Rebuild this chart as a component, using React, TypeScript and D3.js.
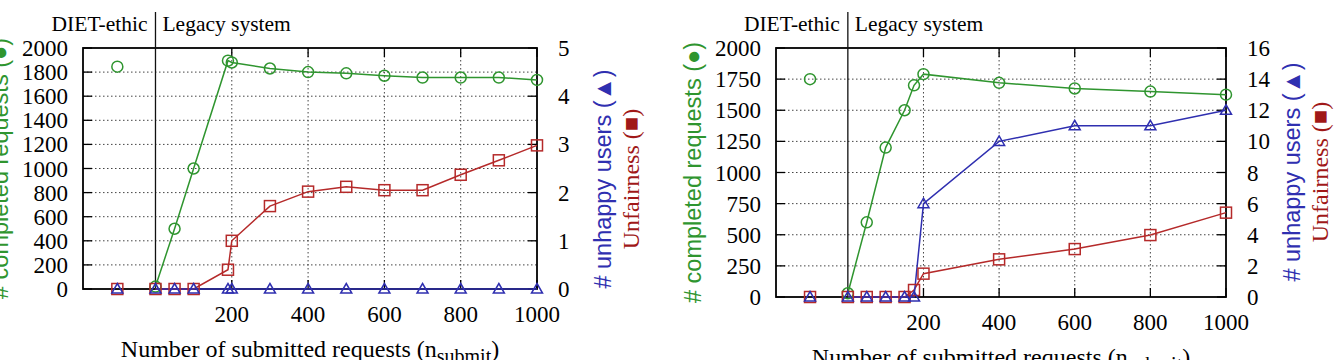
import React from "react"
import * as d3 from "d3"

// shared x layout: DIET-ethic run sits left of 0, legacy runs from 0 to 1000
const xDomain = [-190, 1000]
const xTicks = [200, 400, 600, 800, 1000]
const dietX = [-100]

// first experiment
const aLegacyX = [0, 50, 100, 190, 200, 300, 400, 500, 600, 700, 800, 900, 1000]
const aCompleted = [20, 500, 1000, 1895, 1880, 1830, 1800, 1790, 1770, 1755, 1755, 1755, 1735]
const aUnhappy = [0, 0, 0, 0, 0, 0, 0, 0, 0, 0, 0, 0, 0]
const aUnfairness = [0, 0, 0, 0.4, 1.0, 1.72, 2.02, 2.12, 2.05, 2.05, 2.37, 2.67, 2.98]
const aDietCompleted = [1845]
const aDietUnhappy = [0]
const aDietUnfairness = [0]
const aLeftTicks = [0, 200, 400, 600, 800, 1000, 1200, 1400, 1600, 1800, 2000]
const aRightTicks = [0, 1, 2, 3, 4, 5]

// second experiment
const bLegacyX = [0, 50, 100, 150, 175, 200, 400, 600, 800, 1000]
const bCompleted = [30, 600, 1200, 1500, 1700, 1790, 1720, 1675, 1650, 1625]
const bUnhappy = [0, 0, 0, 0, 0, 6, 10, 11, 11, 12]
const bUnfairness = [0, 0, 0, 0, 0.45, 1.5, 2.42, 3.08, 3.98, 5.42]
const bDietCompleted = [1750]
const bDietUnhappy = [0]
const bDietUnfairness = [0]
const bLeftTicks = [0, 250, 500, 750, 1000, 1250, 1500, 1750, 2000]
const bRightTicks = [0, 2, 4, 6, 8, 10, 12, 14, 16]

const GREEN = "#2f952f"
const RED = "#b52a2a"
const BLUE = "#2f2fb0"
const SERIF = "'Liberation Serif', 'Times New Roman', serif"
const SANS = "'Liberation Sans', Arial, sans-serif"

type PanelProps = {
  left: number
  right: number
  top: number
  bottom: number
  leftTicks: number[]
  rightTicks: number[]
  legacyX: number[]
  completed: number[]
  unhappy: number[]
  unfairness: number[]
  dietCompleted: number[]
  dietUnhappy: number[]
  dietUnfairness: number[]
  y2TitleY: number
}

function Circle({ x, y }: { x: number; y: number }) {
  return <circle cx={x} cy={y} r={5.5} fill="none" stroke={GREEN} strokeWidth={1.5} />
}

function Square({ x, y }: { x: number; y: number }) {
  return <rect x={x - 5.5} y={y - 5.5} width={11} height={11} fill="none" stroke={RED} strokeWidth={1.5} />
}

function Triangle({ x, y }: { x: number; y: number }) {
  const d = `M${x},${y - 5.5}L${x + 5.5},${y + 4}L${x - 5.5},${y + 4}Z`
  return <path d={d} fill="none" stroke={BLUE} strokeWidth={1.5} />
}

function Panel(p: PanelProps) {
  const x = d3.scaleLinear().domain(xDomain).range([p.left, p.right])
  const yL = d3.scaleLinear().domain([0, 2000]).range([p.bottom, p.top])
  const yR = d3
    .scaleLinear()
    .domain([0, p.rightTicks[p.rightTicks.length - 1]])
    .range([p.bottom, p.top])

  const line = (ys: number[], scale: d3.ScaleLinear<number, number>) =>
    d3
      .line<number>()
      .x((_, i) => x(p.legacyX[i]))
      .y(v => scale(v))(ys) as string

  const sep = x(0)
  const midY = (p.top + p.bottom) / 2
  const midX = (p.left + p.right) / 2

  return (
    <g>
      {/* dotted grid */}
      {p.leftTicks.slice(1, -1).map(t => (
        <line key={"h" + t} x1={p.left} x2={p.right} y1={yL(t)} y2={yL(t)}
          stroke="#444" strokeWidth={1} strokeDasharray="1.5,2.5" />
      ))}
      {xTicks.slice(0, -1).map(t => (
        <line key={"v" + t} x1={x(t)} x2={x(t)} y1={p.top} y2={p.bottom}
          stroke="#444" strokeWidth={1} strokeDasharray="1.5,2.5" />
      ))}

      {/* frame and inward ticks */}
      <rect x={p.left} y={p.top} width={p.right - p.left} height={p.bottom - p.top}
        fill="none" stroke="#000" strokeWidth={1.8} />
      {p.leftTicks.map(t => (
        <line key={"lt" + t} x1={p.left} x2={p.left + 9} y1={yL(t)} y2={yL(t)} stroke="#000" strokeWidth={1.3} />
      ))}
      {p.rightTicks.map(t => (
        <line key={"rt" + t} x1={p.right - 9} x2={p.right} y1={yR(t)} y2={yR(t)} stroke="#000" strokeWidth={1.3} />
      ))}
      {xTicks.map(t => (
        <g key={"xt" + t}>
          <line x1={x(t)} x2={x(t)} y1={p.bottom} y2={p.bottom - 9} stroke="#000" strokeWidth={1.3} />
          <line x1={x(t)} x2={x(t)} y1={p.top} y2={p.top + 9} stroke="#000" strokeWidth={1.3} />
        </g>
      ))}

      {/* DIET-ethic | Legacy system divider */}
      <line x1={sep} x2={sep} y1={12} y2={p.bottom} stroke="#111" strokeWidth={1.3} />
      <text x={sep - 8} y={31} textAnchor="end" fontFamily={SERIF} fontSize={21.5}>DIET-ethic</text>
      <text x={sep + 7} y={31} fontFamily={SERIF} fontSize={21.5}>Legacy system</text>

      {/* tick labels */}
      {p.leftTicks.map(t => (
        <text key={"ll" + t} x={p.left - 15} y={yL(t)} dy="0.35em" textAnchor="end"
          fontFamily={SERIF} fontSize={23}>{t}</text>
      ))}
      {p.rightTicks.map(t => (
        <text key={"rl" + t} x={p.right + 21} y={yR(t)} dy="0.35em"
          fontFamily={SERIF} fontSize={23}>{t}</text>
      ))}
      {xTicks.map(t => (
        <text key={"xl" + t} x={x(t)} y={p.bottom + 33} textAnchor="middle"
          fontFamily={SERIF} fontSize={23}>{t}</text>
      ))}

      {/* axis titles */}
      <text x={midX} y={p.bottom + 68} textAnchor="middle" fontFamily={SERIF} fontSize={24}>
        Number of submitted requests (n
        <tspan fontSize={20} dy={6}>submit</tspan>
        <tspan dy={-6}>)</tspan>
      </text>
      <text transform={`translate(${p.left - 75},${midY}) rotate(-90)`} textAnchor="middle"
        fontFamily={SANS} fontSize={23.5} fill={GREEN}># completed requests (●)</text>
      <text transform={`translate(${p.right + 74},${p.y2TitleY}) rotate(-90)`} textAnchor="middle"
        fontFamily={SANS} fontSize={23.5} fill={BLUE}># unhappy users (▲)</text>
      <text transform={`translate(${p.right + 102},${p.y2TitleY}) rotate(-90)`} textAnchor="middle"
        fontFamily={SERIF} fontSize={24} fill="#a01818">Unfairness (■)</text>

      {/* series */}
      <path d={line(p.completed, yL)} fill="none" stroke={GREEN} strokeWidth={1.5} />
      <path d={line(p.unfairness, yR)} fill="none" stroke={RED} strokeWidth={1.5} />
      <path d={line(p.unhappy, yR)} fill="none" stroke={BLUE} strokeWidth={1.5} />

      {p.completed.map((v, i) => <Circle key={"c" + i} x={x(p.legacyX[i])} y={yL(v)} />)}
      {p.dietCompleted.map((v, i) => <Circle key={"dc" + i} x={x(dietX[i])} y={yL(v)} />)}
      {p.unfairness.map((v, i) => <Square key={"s" + i} x={x(p.legacyX[i])} y={yR(v)} />)}
      {p.dietUnfairness.map((v, i) => <Square key={"ds" + i} x={x(dietX[i])} y={yR(v)} />)}
      {p.unhappy.map((v, i) => <Triangle key={"t" + i} x={x(p.legacyX[i])} y={yR(v)} />)}
      {p.dietUnhappy.map((v, i) => <Triangle key={"dt" + i} x={x(dietX[i])} y={yR(v)} />)}
    </g>
  )
}

export default function App() {
  return (
    <svg width={1341} height={360} style={{ position: "absolute", left: 0, top: 0, background: "#fff" }}>
      <Panel left={83} right={537} top={48} bottom={289}
        leftTicks={aLeftTicks} rightTicks={aRightTicks}
        legacyX={aLegacyX} completed={aCompleted} unhappy={aUnhappy} unfairness={aUnfairness}
        dietCompleted={aDietCompleted} dietUnhappy={aDietUnhappy} dietUnfairness={aDietUnfairness}
        y2TitleY={179} />
      <Panel left={776} right={1226} top={48} bottom={297}
        leftTicks={bLeftTicks} rightTicks={bRightTicks}
        legacyX={bLegacyX} completed={bCompleted} unhappy={bUnhappy} unfairness={bUnfairness}
        dietCompleted={bDietCompleted} dietUnhappy={bDietUnhappy} dietUnfairness={bDietUnfairness}
        y2TitleY={172} />
    </svg>
  )
}
